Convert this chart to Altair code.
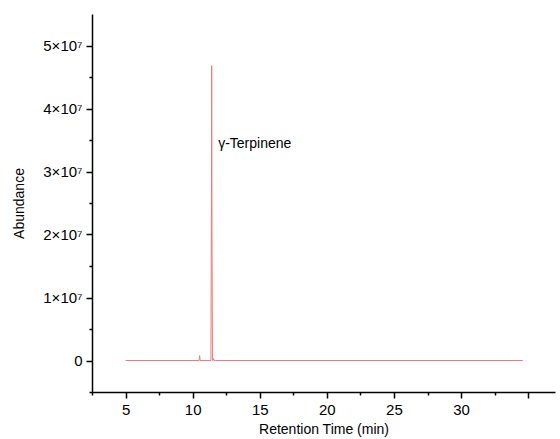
import altair as alt
import pandas as pd

time_min = [5.0, 10.40, 10.48, 10.52, 10.56, 11.30, 11.36, 11.40, 11.42, 11.44, 11.48, 11.52, 11.56, 11.60, 11.70, 34.6]
abundance = [0, 0, 0, 0.08e7, 0, 0, 0, 2.6e7, 4.68e7, 2.0e7, 0, 0, 0.03e7, 0, 0, 0]

label_text = ["γ-Terpinene"]
label_x = [11.9]
label_y = [3.43e7]

x_major = [5, 10, 15, 20, 25, 30, 35]
x_minor = [2.5, 7.5, 12.5, 17.5, 22.5, 27.5, 32.5]
y_major = [0, 1e7, 2e7, 3e7, 4e7, 5e7]
y_minor = [-5e6, 5e6, 1.5e7, 2.5e7, 3.5e7, 4.5e7]

df = pd.DataFrame({"t": time_min, "a": abundance})
lab = pd.DataFrame({"t": label_x, "a": label_y, "text": label_text})

font = "Liberation Sans"

x_scale = alt.Scale(domain=[2.5, 37], nice=False, zero=False)
y_scale = alt.Scale(domain=[-5e6, 5.5e7], nice=False, zero=False)

x_axis = alt.Axis(
    orient="bottom",
    values=x_major,
    labelExpr="datum.value <= 30 ? datum.label : ''",
    format="d",
    title="Retention Time (min)",
    grid=False,
    domainColor="black", domainWidth=1.5,
    tickColor="black", tickWidth=1.5, tickSize=6,
    labelFont=font, labelFontSize=15, labelColor="black", labelPadding=4,
    titleFont=font, titleFontSize=14, titleFontWeight="normal", titleColor="black", titlePadding=5,
)

y_axis = alt.Axis(
    orient="left",
    values=y_major,
    labelExpr="datum.value == 0 ? '0' : (datum.value / 1e7) + '×10⁷'",
    title="Abundance",
    grid=False,
    domainColor="black", domainWidth=1.5,
    tickColor="black", tickWidth=1.5, tickSize=6,
    labelFont=font, labelFontSize=15, labelColor="black", labelPadding=4,
    titleFont=font, titleFontSize=14, titleFontWeight="normal", titleColor="black", titlePadding=16,
)

x_axis_minor = alt.Axis(orient="bottom", values=x_minor, labels=False, title=None, grid=False, domain=False,
                        tickColor="black", tickWidth=1.5, tickSize=3)
y_axis_minor = alt.Axis(orient="left", values=y_minor, labels=False, title=None, grid=False, domain=False,
                        tickColor="black", tickWidth=1.5, tickSize=3)

line = alt.Chart(df).mark_line(color="#e87d7d", strokeWidth=1, interpolate="linear").encode(
    x=alt.X("t:Q", scale=x_scale, axis=x_axis),
    y=alt.Y("a:Q", scale=y_scale, axis=y_axis),
)

minor = alt.Chart(lab).mark_text(align="left", baseline="middle", font=font, fontSize=14, color="black").encode(
    x=alt.X("t:Q", scale=x_scale, axis=x_axis_minor),
    y=alt.Y("a:Q", scale=y_scale, axis=y_axis_minor),
    text="text:N",
)

chart = alt.layer(line, minor).resolve_axis(x="independent", y="independent").properties(
    width=463, height=378,
    padding={"left": 92, "top": 14, "right": 5, "bottom": 47},
    autosize=alt.AutoSizeParams(type="none"),
    background="white",
).configure_view(stroke=None)

chart.save("out.html", embed_options={"renderer": "svg", "actions": False})
